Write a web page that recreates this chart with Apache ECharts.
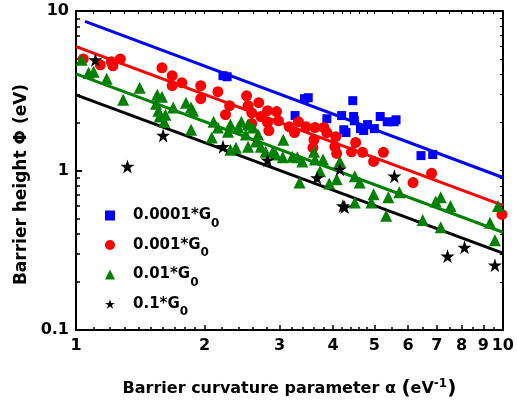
<!DOCTYPE html>
<html><head><meta charset="utf-8">
<script src="https://cdn.jsdelivr.net/npm/echarts@6/dist/echarts.min.js"></script>
<style>html,body{margin:0;padding:0;background:#fff}#c{width:517px;height:405px}</style>
</head><body><div id="c"></div>
<script>
const seriesNames = ['0.0001*G', '0.001*G', '0.01*G', '0.1*G'];
const seriesColors = ['#0000ff', '#ff0000', '#008000', '#000000'];

const blueSquares = [[2.21,3.93],[2.26,3.87],[3.43,2.82],[3.50,2.86],[4.45,2.74],[3.26,2.21],[3.87,2.11],[4.19,2.21],[4.47,2.18],[4.49,2.05],[4.24,1.80],[4.29,1.73],[4.64,1.83],[4.72,1.78],[4.82,1.94],[5.00,1.83],[5.16,2.18],[5.36,2.02],[5.56,2.02],[5.62,2.08],[6.43,1.24],[6.85,1.26]];

const redCircles = [[1.04,5.01],[1.14,4.60],[1.21,4.80],[1.22,4.53],[1.27,5.01],[1.59,4.40],[1.68,3.93],[1.68,3.40],[1.77,3.55],[1.96,3.40],[1.96,2.82],[2.15,3.12],[2.29,2.55],[2.24,2.24],[2.51,2.94],[2.53,2.55],[2.58,2.30],[2.58,1.97],[2.68,2.66],[2.71,2.18],[2.81,2.37],[2.81,2.00],[2.83,1.78],[2.95,2.34],[2.98,2.05],[3.16,1.88],[3.25,1.73],[3.32,2.02],[3.46,1.88],[3.63,1.86],[3.81,1.86],[3.87,1.73],[4.06,1.63],[3.61,1.56],[3.59,1.39],[4.04,1.41],[4.08,1.28],[4.52,1.50],[4.42,1.31],[4.69,1.30],[5.25,1.30],[4.98,1.14],[6.16,0.84],[6.81,0.96],[9.95,0.53]];

const greenTriangles = [[1.03,4.94],[1.07,4.10],[1.10,4.16],[1.18,3.76],[1.29,2.78],[1.41,3.30],[1.55,2.99],[1.59,2.90],[1.54,2.62],[1.56,2.37],[1.57,2.18],[1.62,2.24],[1.61,2.02],[1.69,2.48],[1.81,2.66],[1.86,2.48],[1.88,2.37],[1.86,1.80],[2.10,2.02],[2.08,1.61],[2.15,1.86],[2.30,1.94],[2.27,1.75],[2.44,2.02],[2.40,1.86],[2.53,1.94],[2.50,1.68],[2.60,1.86],[2.67,1.68],[2.64,1.52],[2.37,1.39],[2.30,1.35],[2.53,1.41],[2.71,1.41],[2.78,1.31],[2.89,1.31],[3.06,1.56],[2.94,1.26],[3.05,1.21],[3.21,1.22],[3.30,1.21],[3.39,1.14],[3.61,1.31],[3.63,1.17],[3.79,1.17],[3.73,0.99],[4.15,1.14],[4.08,0.88],[3.92,0.83],[3.34,0.84],[4.50,0.92],[4.50,0.63],[4.62,0.84],[4.98,0.71],[4.92,0.63],[5.39,0.68],[5.33,0.52],[5.72,0.73],[6.49,0.49],[6.96,0.64],[7.15,0.68],[7.54,0.60],[7.15,0.44],[9.33,0.47],[9.58,0.365],[9.74,0.60]];

const blackStars = [[1.11,4.94],[1.32,1.06],[1.60,1.66],[2.21,1.41],[2.81,1.16],[3.67,0.90],[4.15,1.02],[4.22,0.60],[4.26,0.59],[5.57,0.92],[7.42,0.29],[8.13,0.33],[9.58,0.255]];

const fitBlue = [[1.05,8.6],[10,0.904]];
const fitRed = [[1,5.98],[10,0.604]];
const fitGreen = [[1,4.04],[10,0.41]];
const fitBlack = [[1,2.98],[10,0.303]];

const xMajorTicks = [1,2,3,4,5,6,7,8,9,10];
const xMinorTicks = [1.1,1.2,1.3,1.4,1.5,1.6,1.7,1.8,1.9,2.2,2.4,2.6,2.8,3.2,3.4,3.6,3.8,4.2,4.4,4.6,4.8,5.5,6.5,7.5,8.5,9.5];
const yMajorTicks = [0.1,1,10];
const yMinorTicks = [0.2,0.3,0.4,0.5,0.6,0.7,0.8,0.9,2,3,4,5,6,7,8,9];

const FONT = 'DejaVu Sans';
const starPath = 'path://M50,0 L61.8,35.1 L98.9,35.1 L68.9,56.8 L80.3,92 L50,70.3 L19.7,92 L31.1,56.8 L1.1,35.1 L38.2,35.1 Z';
const symbols = ['rect', 'circle', 'triangle', starPath];
const symbolSizes = [9, 11, 12, 14];

const chart = echarts.init(document.getElementById('c'), null, {renderer: 'canvas'});

function logX(extra) {
  return Object.assign({
    type: 'log', logBase: 10, min: 1, max: 10,
    splitLine: {show: false}, minorTick: {show: false}, minorSplitLine: {show: false},
    axisLine: {show: true, lineStyle: {color: '#000', width: 2}}
  }, extra);
}
function logY(extra) {
  return Object.assign({
    type: 'log', logBase: 10, min: 0.1, max: 10,
    splitLine: {show: false}, minorTick: {show: false}, minorSplitLine: {show: false},
    axisLine: {show: true, lineStyle: {color: '#000', width: 2}}
  }, extra);
}

const scatterData = [blueSquares, redCircles, greenTriangles, blackStars];
const fits = [fitBlue, fitRed, fitGreen, fitBlack];

const series = [];
fits.forEach((d, i) => {
  series.push({
    type: 'line', data: d, xAxisIndex: 0, yAxisIndex: 0, symbol: 'none', silent: true,
    lineStyle: {color: seriesColors[i], width: 3}, z: 2, animation: false
  });
});
scatterData.forEach((d, i) => {
  series.push({
    name: seriesNames[i], type: 'scatter', data: d, xAxisIndex: 0, yAxisIndex: 0,
    symbol: symbols[i], symbolSize: symbolSizes[i],
    itemStyle: {color: seriesColors[i], opacity: 1}, z: 3, animation: false
  });
});

chart.setOption({
  animation: false,
  grid: {left: 76, right: 9, top: 11, bottom: 75},
  legend: {
    orient: 'vertical', left: 100, top: 203, itemGap: 8, itemWidth: 10, itemHeight: 10,
    data: seriesNames.map((n, i) => ({name: n, icon: symbols[i]})),
    formatter: n => '{a|' + n + '}{s|0}',
    textStyle: {
      padding: [0, 0, 0, 13],
      rich: {
        a: {fontFamily: FONT, fontWeight: 'bold', fontSize: 15, color: '#000', lineHeight: 20, verticalAlign: 'middle'},
        s: {fontFamily: FONT, fontWeight: 'bold', fontSize: 12, color: '#000', lineHeight: 20, verticalAlign: 'bottom', padding: [0,0,-4,0]}
      }
    }
  },
  xAxis: [
    logX({
      position: 'bottom',
      name: 'Barrier curvature parameter α {p|(}eV{sup|-1}{p|)}',
      nameLocation: 'middle', nameGap: 48,
      nameTextStyle: {
        fontFamily: FONT, fontWeight: 'bold', fontSize: 16, color: '#000',
        rich: {
          p: {fontFamily: FONT, fontWeight: 'bold', fontSize: 20, color: '#000'},
          sup: {fontFamily: FONT, fontWeight: 'bold', fontSize: 12, color: '#000', verticalAlign: 'top', padding: [0,0,10,0]}
        }
      },
      axisTick: {show: true, inside: true, length: 5, lineStyle: {width: 1.5, color: '#000'}, customValues: xMajorTicks},
      axisLabel: {show: true, margin: 8, fontFamily: FONT, fontWeight: 'bold', fontSize: 16, color: '#000', customValues: xMajorTicks, formatter: v => String(Math.round(v*10)/10)}
    }),
    logX({
      position: 'bottom',
      axisTick: {show: true, inside: true, length: 3, lineStyle: {width: 1.5, color: '#000'}, customValues: xMinorTicks},
      axisLabel: {show: false}
    }),
    logX({
      position: 'top',
      axisTick: {show: true, inside: true, length: 3, lineStyle: {width: 1, color: '#000'}, customValues: xMajorTicks.concat(xMinorTicks)},
      axisLabel: {show: false}
    })
  ],
  yAxis: [
    logY({
      position: 'left',
      name: 'Barrier height Φ (eV)', nameLocation: 'middle', nameGap: 39, nameRotate: 90,
      nameTextStyle: {fontFamily: FONT, fontWeight: 'bold', fontSize: 17, color: '#000', padding: [0, 28, 0, 0]},
      axisTick: {show: true, inside: true, length: 6, lineStyle: {width: 2, color: '#000'}, customValues: yMajorTicks},
      axisLabel: {show: true, margin: 7, fontFamily: FONT, fontWeight: 'bold', fontSize: 16, color: '#000', customValues: yMajorTicks, formatter: v => (v < 1 ? '0.1' : String(Math.round(v)))}
    }),
    logY({
      position: 'left',
      axisTick: {show: true, inside: true, length: 4, lineStyle: {width: 1.5, color: '#000'}, customValues: yMinorTicks},
      axisLabel: {show: false}
    }),
    logY({
      position: 'right',
      axisTick: {show: true, inside: true, length: 3, lineStyle: {width: 1, color: '#000'}, customValues: yMajorTicks.concat(yMinorTicks)},
      axisLabel: {show: false}
    })
  ],
  series: series
});
</script></body></html>
